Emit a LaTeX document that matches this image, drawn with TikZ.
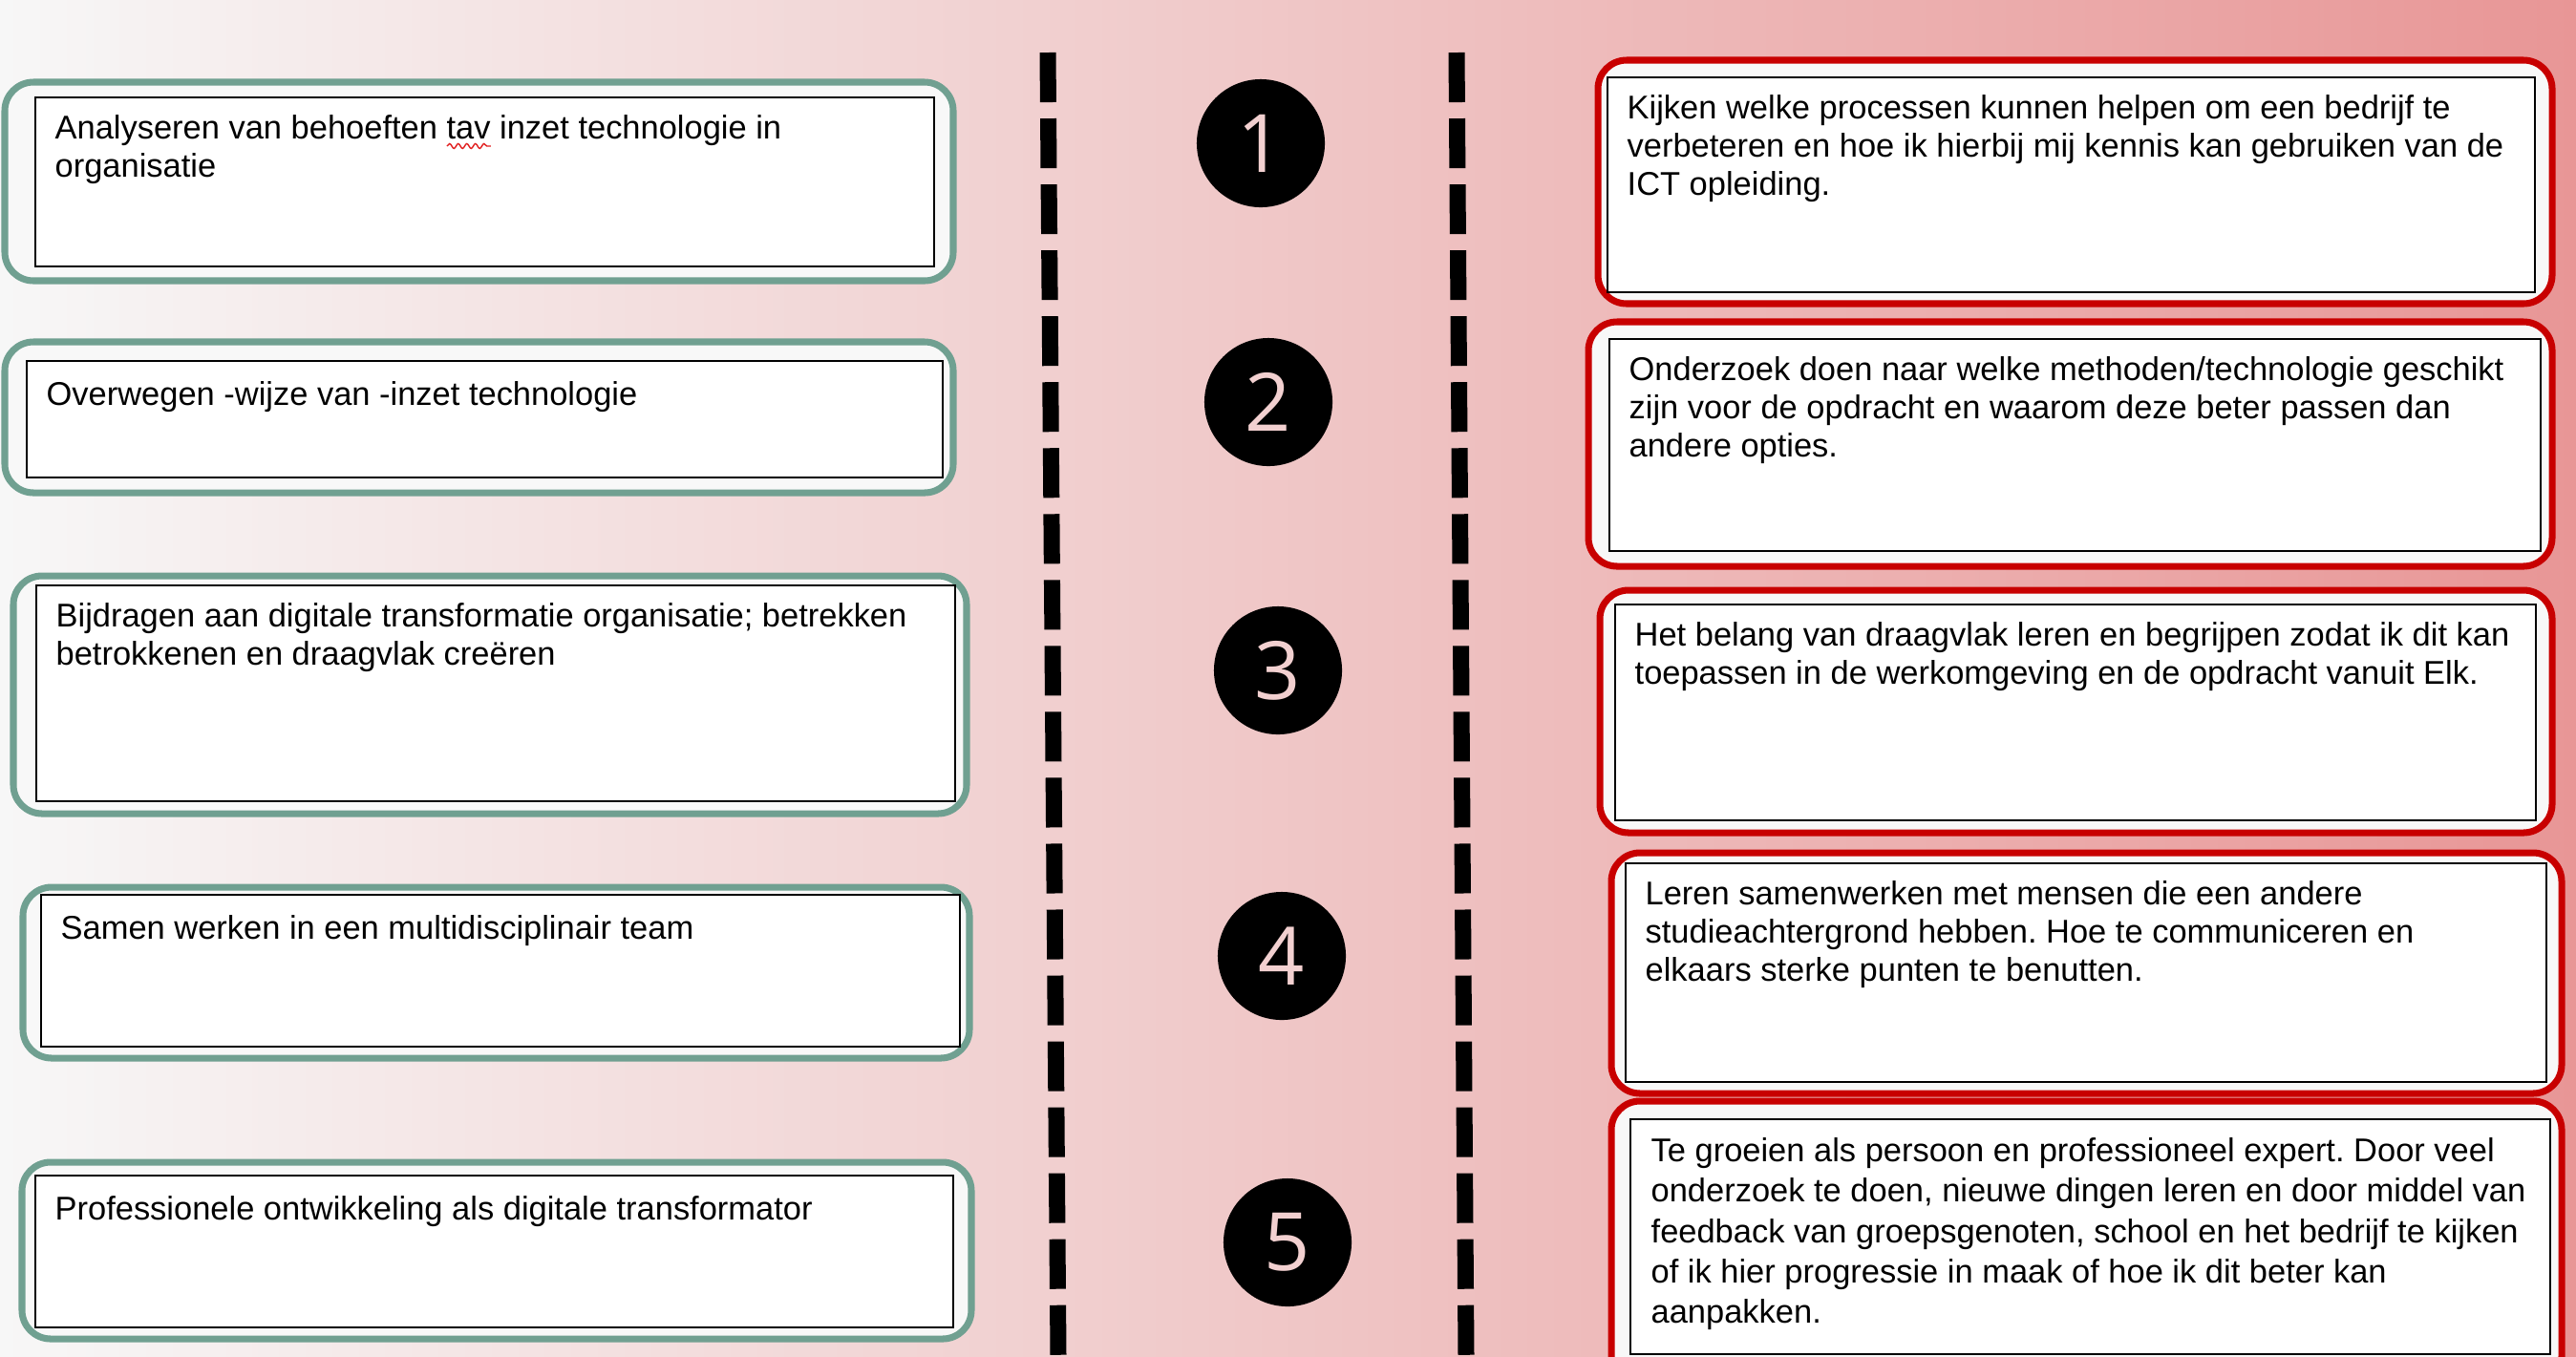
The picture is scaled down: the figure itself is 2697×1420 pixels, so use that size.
\documentclass[tikz,border=0pt]{standalone}
\usepackage{fontspec}
\setmainfont{Liberation Sans}
\newfontfamily\numfont{Open Sans}
\usepackage{xcolor}
\usetikzlibrary{positioning,fit,decorations.pathmorphing}
\definecolor{bgl}{RGB}{247,247,247}
\definecolor{bgm}{RGB}{241,206,206}
\definecolor{bgr}{RGB}{232,150,150}
\definecolor{lgreen}{RGB}{112,160,145}
\definecolor{rred}{RGB}{200,0,0}
\definecolor{boxwhite}{RGB}{248,248,248}
\definecolor{numpink}{RGB}{242,208,208}
\definecolor{spell}{RGB}{225,30,30}
\frenchspacing

\begin{document}
\begin{tikzpicture}[x=0.01cm, y=-0.01cm,
  frame/.style={rounded corners=3mm, line width=2pt, fill=boxwhite, inner sep=0pt},
  lbox/.style={frame, draw=lgreen},
  rbox/.style={frame, draw=rred},
  card/.style={draw=black, line width=0.6pt, fill=white, inner sep=0pt},
  txt/.style={anchor=north west, align=left, inner sep=0pt, font=\fontsize{9.8}{11.4}\selectfont, execute at begin node=\strut},
  num/.style={circle, fill=black, minimum size=13.4mm, inner sep=0pt, text=numpink, font=\numfont\fontsize{24}{24}\selectfont},
  sep/.style={line width=1.7mm, dash pattern=on 5.2mm off 1.7mm},
  squiggle/.style={spell, line width=0.4pt, decorate, decoration={snake, amplitude=0.25mm, segment length=0.9mm}}]
  \useasboundingbox (0,0) rectangle (2697,1420);
  \clip (0,0) rectangle (2697,1420);
  \fill[left color=bgl, middle color=bgm, right color=bgr] (0,0) rectangle (2697,1420);

  \node[lbox, fit={(5,86) (998,294)}] (g1) {};
  \node[card, fit={(37,102) (978,279)}] (c1) {};
  \node[txt] (t1) at ([shift={(21,19)}]c1.north west) {Analyseren van behoeften tav inzet technologie in\\organisatie};
  \coordinate (sq1) at ([shift={(411,33)}]t1.north west);
  \coordinate (sq2) at ([shift={(457,33)}]t1.north west);
  \draw[squiggle] (sq1) -- (sq2);
  \node[lbox, fit={(5,358) (998,516)}] (g2) {};
  \node[card, fit={(28,378) (987,500)}] (c2) {};
  \node[txt] (t2) at ([shift={(21,19)}]c2.north west) {Overwegen -wijze van -inzet technologie};
  \node[lbox, fit={(14,603) (1012,852)}] (g3) {};
  \node[card, fit={(38,613) (1000,839)}] (c3) {};
  \node[txt] (t3) at ([shift={(21,19)}]c3.north west) {Bijdragen aan digitale transformatie organisatie; betrekken\\betrokkenen en draagvlak creëren};
  \node[lbox, fit={(24,929) (1015,1108)}] (g4) {};
  \node[card, fit={(43,937) (1005,1096)}] (c4) {};
  \node[txt] (t4) at ([shift={(21,19)}]c4.north west) {Samen werken in een multidisciplinair team};
  \node[lbox, fit={(23,1217) (1017,1402)}] (g5) {};
  \node[card, fit={(37,1231) (998,1390)}] (c5) {};
  \node[txt] (t5) at ([shift={(21,19)}]c5.north west) {Professionele ontwikkeling als digitale transformator};

  \coordinate (sa1) at (1097,55);
  \coordinate (sa2) at (1108,1420);
  \coordinate (sb1) at (1525,55);
  \coordinate (sb2) at (1535,1420);
  \draw[sep] (sa1) -- (sa2);
  \draw[sep] (sb1) -- (sb2);

  \node[num] (n1) at (1320,150) {1};
  \node[num] (n2) at (1328,421) {2};
  \node[num] (n3) at (1338,702) {3};
  \node[num] (n4) at (1342,1001) {4};
  \node[num] (n5) at (1348,1301) {5};

  \node[rbox, fit={(1673,63) (2672,318)}] (r1) {};
  \node[card, fit={(1683,81) (2654,306)}] (k1) {};
  \node[txt] (u1) at ([shift={(21,19)}]k1.north west) {Kijken welke processen kunnen helpen om een bedrijf te\\verbeteren en hoe ik hierbij mij kennis kan gebruiken van de\\ICT opleiding.};
  \node[rbox, fit={(1663,337) (2672,593)}] (r2) {};
  \node[card, fit={(1685,355) (2660,577)}] (k2) {};
  \node[txt] (u2) at ([shift={(21,19)}]k2.north west) {Onderzoek doen naar welke methoden/technologie geschikt\\zijn voor de opdracht en waarom deze beter passen dan\\andere opties.};
  \node[rbox, fit={(1675,618) (2672,872)}] (r3) {};
  \node[card, fit={(1691,633) (2655,859)}] (k3) {};
  \node[txt] (u3) at ([shift={(21,19)}]k3.north west) {Het belang van draagvlak leren en begrijpen zodat ik dit kan\\toepassen in de werkomgeving en de opdracht vanuit Elk.};
  \node[rbox, fit={(1687,893) (2682,1145)}] (r4) {};
  \node[card, fit={(1702,904) (2666,1133)}] (k4) {};
  \node[txt] (u4) at ([shift={(21,19)}]k4.north west) {Leren samenwerken met mensen die een andere\\studieachtergrond hebben. Hoe te communiceren en\\elkaars sterke punten te benutten.};
  \node[rbox, fit={(1687,1153) (2682,1450)}] (r5) {};
  \node[card, fit={(1707,1172) (2670,1418)}] (k5) {};
  \node[txt, font=\fontsize{9.8}{12}\selectfont] (u5) at ([shift={(22,20)}]k5.north west) {Te groeien als persoon en professioneel expert. Door veel\\onderzoek te doen, nieuwe dingen leren en door middel van\\feedback van groepsgenoten, school en het bedrijf te kijken\\of ik hier progressie in maak of hoe ik dit beter kan\\aanpakken.};
\end{tikzpicture}
\end{document}
